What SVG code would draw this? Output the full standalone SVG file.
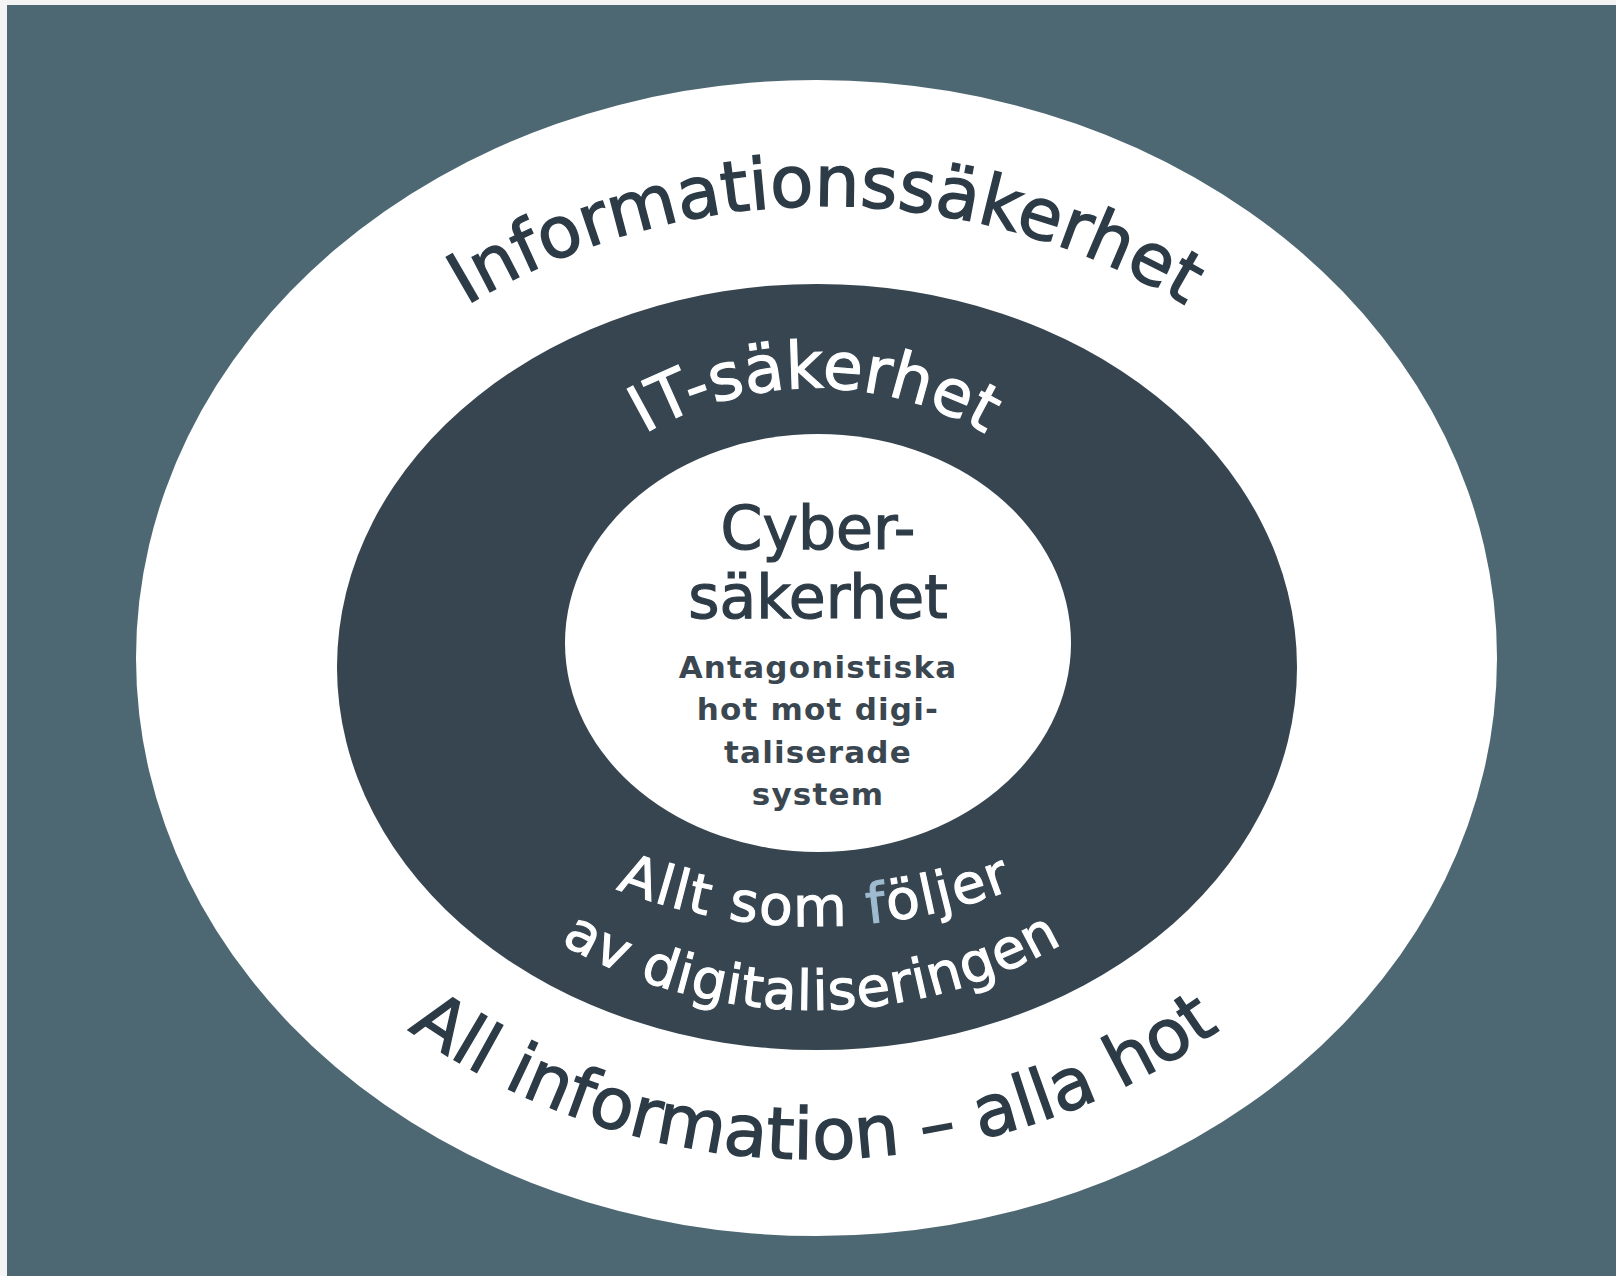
<svg xmlns="http://www.w3.org/2000/svg" width="1616" height="1276" viewBox="0 0 1616 1276">
  <style>
    .ring-label-dark { font-family: "DejaVu Sans", "Liberation Sans", sans-serif; fill: #2c3b46; stroke: #2c3b46; stroke-width: 1.4px; }
    .ring-label-light { font-family: "DejaVu Sans", "Liberation Sans", sans-serif; fill: #ffffff; stroke: #ffffff; stroke-width: 1.1px; }
    .core-title { font-family: "DejaVu Sans", "Liberation Sans", sans-serif; font-size: 60px; fill: #2e3c47; stroke: #2e3c47; stroke-width: 1.2px; text-anchor: middle; }
    .core-body { font-family: "DejaVu Sans", "Liberation Sans", sans-serif; font-size: 31px; font-weight: bold; fill: #3a4751; text-anchor: middle; letter-spacing: 1.2px; }
  </style>
  <defs>
    <path id="arc-info" d="M 126 906 A 700 700 0 0 1 1526 906"/>
    <path id="arc-it" d="M 475 728 A 340 340 0 0 1 1155 728"/>
    <path id="arc-allt" d="M 265 376 A 550 550 0 0 0 1365 376"/>
    <path id="arc-av" d="M 307 505 A 505 505 0 0 0 1317 505"/>
    <path id="arc-all" d="M 112 457 A 702 702 0 0 0 1516 457"/>
  </defs>
  <rect x="0" y="0" width="1616" height="1276" fill="#f4f4f4"/>
  <rect x="7" y="5" width="1609" height="1271" fill="#4e6873"/>

  <g id="informationssakerhet">
    <ellipse cx="816.5" cy="658" rx="680.5" ry="578" fill="#ffffff"/>
    <text class="ring-label-dark" font-size="71"><textPath href="#arc-info" startOffset="50%" text-anchor="middle">Informationssäkerhet</textPath></text>
    <text class="ring-label-dark" font-size="71"><textPath href="#arc-all" startOffset="50%" text-anchor="middle">All information – alla hot</textPath></text>
  </g>

  <g id="it-sakerhet">
    <ellipse cx="817" cy="667" rx="480" ry="383" fill="#36454f"/>
    <text class="ring-label-light" font-size="65"><textPath href="#arc-it" startOffset="50%" text-anchor="middle">IT-säkerhet</textPath></text>
    <text class="ring-label-light" font-size="55" letter-spacing="1.8"><textPath href="#arc-allt" startOffset="50%" text-anchor="middle">Allt som <tspan fill="#9fbbd0" stroke="#9fbbd0">f</tspan>öljer</textPath></text>
    <text class="ring-label-light" font-size="55" letter-spacing="0.9"><textPath href="#arc-av" startOffset="50%" text-anchor="middle">av digitaliseringen</textPath></text>
  </g>

  <g id="cybersakerhet">
    <ellipse cx="818" cy="643" rx="253" ry="209" fill="#ffffff"/>
    <text class="core-title" x="818" y="549">Cyber-</text>
    <text class="core-title" x="818" y="618">säkerhet</text>
    <text class="core-body" x="818" y="678">Antagonistiska</text>
    <text class="core-body" x="818" y="720">hot mot digi-</text>
    <text class="core-body" x="818" y="763">taliserade</text>
    <text class="core-body" x="818" y="805">system</text>
  </g>

  <g id="connectors"/>
</svg>
